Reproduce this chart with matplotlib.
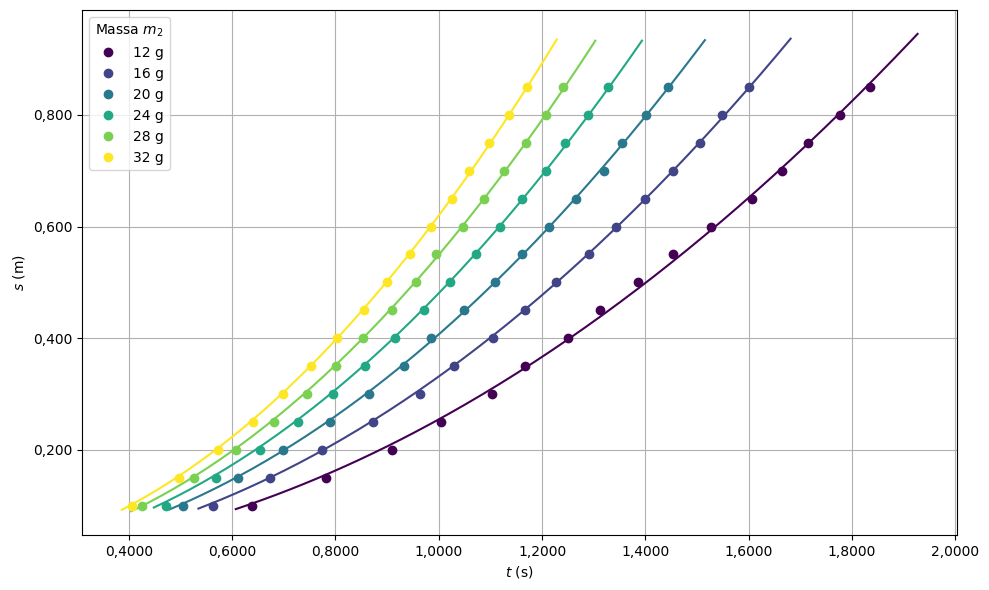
import numpy as np
import matplotlib
matplotlib.use("Agg")
import matplotlib.pyplot as plt
from matplotlib.ticker import FuncFormatter, MultipleLocator

s_values = [0.10, 0.15, 0.20, 0.25, 0.30, 0.35, 0.40, 0.45,
            0.50, 0.55, 0.60, 0.65, 0.70, 0.75, 0.80, 0.85]

masses = ["12 g", "16 g", "20 g", "24 g", "28 g", "32 g"]

t_12g = [0.639, 0.782, 0.910, 1.005, 1.103, 1.166, 1.250, 1.313,
         1.385, 1.454, 1.526, 1.606, 1.664, 1.714, 1.776, 1.835]
t_16g = [0.563, 0.674, 0.774, 0.872, 0.964, 1.029, 1.105, 1.166,
         1.226, 1.290, 1.344, 1.400, 1.453, 1.505, 1.548, 1.601]
t_20g = [0.504, 0.612, 0.698, 0.790, 0.865, 0.932, 0.985, 1.048,
         1.108, 1.162, 1.213, 1.266, 1.319, 1.354, 1.402, 1.443]
t_24g = [0.472, 0.568, 0.654, 0.727, 0.795, 0.858, 0.916, 0.971,
         1.021, 1.072, 1.118, 1.161, 1.207, 1.244, 1.288, 1.327]
t_28g = [0.426, 0.526, 0.608, 0.681, 0.745, 0.801, 0.853, 0.909,
         0.955, 0.995, 1.046, 1.088, 1.127, 1.168, 1.207, 1.241]
t_32g = [0.407, 0.498, 0.573, 0.640, 0.698, 0.752, 0.803, 0.856,
         0.899, 0.944, 0.985, 1.025, 1.059, 1.098, 1.135, 1.170]

t_series = [t_12g, t_16g, t_20g, t_24g, t_28g, t_32g]

fig, ax = plt.subplots(figsize=(9.89, 5.90), dpi=100)
colors = plt.cm.viridis(np.linspace(0, 1, len(masses)))

s = np.array(s_values)
for label, tv, c in zip(masses, t_series, colors):
    t = np.array(tv)
    # least-squares fit of s = k * t^2
    k = np.sum(s * t**2) / np.sum(t**4)
    tt = np.linspace(0.95 * t.min(), 1.05 * t.max(), 200)
    ax.plot(t, s, "o", color=c, label=label)
    ax.plot(tt, k * tt**2, "-", color=c)

ax.xaxis.set_major_locator(MultipleLocator(0.2))
ax.yaxis.set_major_locator(MultipleLocator(0.2))
ax.xaxis.set_major_formatter(FuncFormatter(lambda v, p: f"{v:.4f}".replace(".", ",")))
ax.yaxis.set_major_formatter(FuncFormatter(lambda v, p: f"{v:.3f}".replace(".", ",")))
ax.set_xlabel("$t$ (s)")
ax.set_ylabel("$s$ (m)")
ax.grid(True)
ax.legend(title="Massa $m_2$", loc="upper left")
fig.subplots_adjust(left=0.083, right=0.968, top=0.983, bottom=0.093)
fig.savefig("out.png")
